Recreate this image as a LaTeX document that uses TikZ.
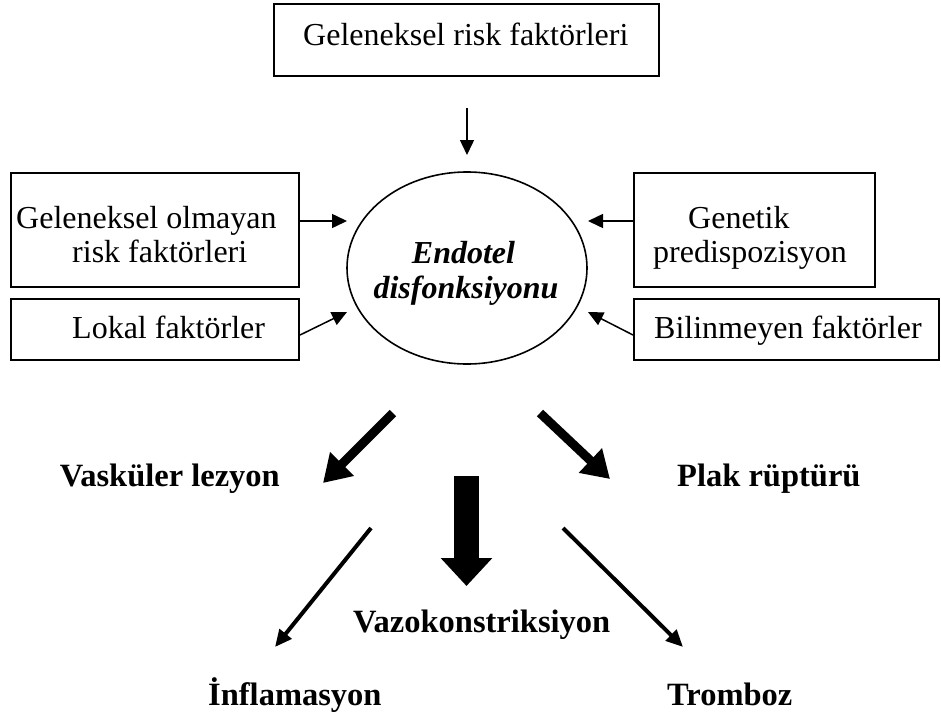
\documentclass[tikz,border=0pt]{standalone}
\usepackage{fontspec}
\setmainfont{Liberation Serif}
\usetikzlibrary{shapes.geometric,arrows.meta}
\begin{document}
\begin{tikzpicture}[x=1pt,y=-1pt,
  box/.style={draw,line width=2pt,rectangle,inner sep=0pt},
  txt/.style={anchor=base west,inner sep=0pt,font=\fontsize{32}{35}\selectfont},
  btxt/.style={anchor=base west,inner sep=0pt,font=\fontsize{32.5}{38}\selectfont\bfseries},
  bitxt/.style={anchor=base,inner sep=0pt,font=\fontsize{32}{35}\selectfont\bfseries\itshape},
  thinarr/.style={line width=1.5pt,-{Triangle[length=15pt,width=14pt]}},
  thickarr/.style={line width=9pt,-{Triangle[length=27pt,width=32pt]}},
  medarr/.style={line width=4pt,-{Triangle[length=17pt,width=15pt]}},
  blockarr/.style={line width=25pt,-{Triangle[length=28pt,width=50pt]}}]
\fill[white] (0,0) rectangle (941,720);
\useasboundingbox (0,0) rectangle (941,720);

% boxes
\node[box,minimum width=385pt,minimum height=72pt] (top) at (466.5,40) {};
\node[box,minimum width=288pt,minimum height=114pt] (nt) at (155,230) {};
\node[box,minimum width=288pt,minimum height=61pt] (lk) at (155,329.5) {};
\node[box,minimum width=241pt,minimum height=114pt] (gp) at (754.5,230) {};
\node[box,minimum width=305pt,minimum height=61pt] (bf) at (786.5,329.5) {};
\node[draw,ellipse,line width=1.6pt,inner sep=0pt,minimum width=240pt,minimum height=192pt] (ell) at (467,268) {};

% box texts
\node[txt] (tTop) at (303,45) {Geleneksel risk faktörleri};
\node[txt] (tNt1) at (16,228) {Geleneksel olmayan};
\node[txt] (tNt2) at (72,262) {risk faktörleri};
\node[txt] (tLk) at (72,338) {Lokal faktörler};
\node[txt] (tGp1) at (688,228) {Genetik};
\node[txt] (tGp2) at (653,262) {predispozisyon};
\node[txt] (tBf) at (654,338) {Bilinmeyen faktörler};
\node[bitxt] (tE1) at (463.5,263) {Endotel};
\node[bitxt] (tE2) at (466,298) {disfonksiyonu};

% outcome labels
\node[btxt,anchor=base east] (vl) at (280,486) {Vasküler lezyon};
\node[btxt] (pr) at (677,486) {Plak rüptürü};
\node[btxt] (vk) at (353,632) {Vazokonstriksiyon};
\node[btxt] (inf) at (208,705) {İnflamasyon};
\node[btxt] (tr) at (667,705) {Tromboz};

% input arrows
\coordinate (tTip) at (467,155);
\draw[thinarr] ([xshift=0.5pt,yshift=-31pt]top.south) -- (tTip);
\coordinate (l1Tip) at (347,221);
\draw[thinarr] ([yshift=9pt]nt.east) -- (l1Tip);
\coordinate (l2Tip) at (347,312);
\draw[thinarr] ([yshift=-5.5pt]lk.east) -- (l2Tip);
\coordinate (r1Tip) at (588,221);
\draw[thinarr] ([yshift=9pt]gp.west) -- (r1Tip);
\coordinate (r2Tip) at (588,312);
\draw[thinarr] ([yshift=-5.5pt]bf.west) -- (r2Tip);

% output arrows
\coordinate (aLs) at (393,413);
\coordinate (aLe) at (323,483);
\draw[thickarr] (aLs) -- (aLe);
\coordinate (aRs) at (540,413);
\coordinate (aRe) at (610,479);
\draw[thickarr] (aRs) -- (aRe);
\coordinate (aVs) at (466.5,476);
\coordinate (aVe) at (466.5,586);
\draw[blockarr] (aVs) -- (aVe);
\coordinate (bLs) at (371,528);
\coordinate (bLe) at (275,647);
\draw[medarr] (bLs) -- (bLe);
\coordinate (bRs) at (563,528);
\coordinate (bRe) at (683,647);
\draw[medarr] (bRs) -- (bRe);
\end{tikzpicture}
\end{document}
